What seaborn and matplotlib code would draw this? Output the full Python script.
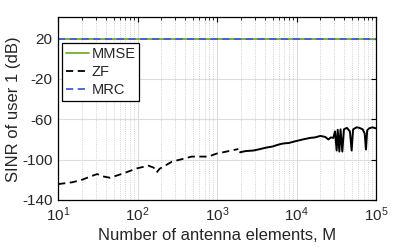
import numpy as np
import pandas as pd
import matplotlib
matplotlib.use("Agg")
import matplotlib.pyplot as plt
import seaborn as sns
from matplotlib.ticker import LogLocator, NullFormatter, NullLocator

# ---------------------------
# Data
# ---------------------------
flat_m = [10, 100, 1000, 10000, 100000]
mmse_db = [20, 20, 20, 20, 20]
mrc_db = [20, 20, 20, 20, 20]

# ZF, sparse dashed part
zf_m_low = [10, 15, 20, 25, 31, 36, 45, 66, 98, 137, 160, 174, 190, 222, 271,
            343, 480, 640, 780, 990, 1324, 1853]
zf_db_low = [-124.3, -122.5, -120, -117, -114.3, -116.5, -118, -113.7, -108.7,
             -106, -108, -112.7, -109, -106, -102, -100, -97, -97, -97, -94,
             -92, -89.5]

# ZF, dense noisy part
zf_m_high = [1950, 2300, 2867, 3500, 4200, 5000, 6000, 6800, 8000, 10000,
             12000, 14800, 17000, 20000, 23000, 25200, 27000, 29000, 30500,
             32000, 33000, 34600, 35800, 37700, 39500, 43000, 47000, 49400,
             51500, 57000, 62000, 68000, 72000, 74800, 77500, 82000, 90000,
             100000]
zf_db_high = [-92.7, -91.5, -91, -89.5, -88, -87, -85, -84, -83.5, -81.5,
              -80, -78.5, -78, -76.5, -77.5, -80, -78, -78.5, -72,
              -91, -70.5, -92, -70, -92, -70, -68.5, -72, -91,
              -70, -68, -68.5, -70, -74, -90, -71, -69, -68,
              -69]

# ---------------------------
# Style
# ---------------------------
sns.set_theme(style="white")
plt.rcParams["font.family"] = ["Liberation Sans", "DejaVu Sans"]
plt.rcParams["mathtext.fontset"] = "custom"
plt.rcParams["mathtext.rm"] = "Liberation Sans"
plt.rcParams["mathtext.it"] = "Liberation Sans:italic"
plt.rcParams["axes.unicode_minus"] = False

fig = plt.figure(figsize=(4.15, 2.49), dpi=100)
ax = fig.add_axes([0.14, 0.197, 0.766, 0.733])

green = "#77AC30"
blue = "#3F5FD8"
txt = "#262626"

sns.lineplot(x=flat_m, y=mmse_db, ax=ax, color=green, lw=1.3, label="MMSE")
sns.lineplot(x=zf_m_low, y=zf_db_low, ax=ax, color="black", lw=1.3,
             label="ZF", dashes=False)
ax.lines[-1].set_dashes((4, 2.5))
sns.lineplot(x=zf_m_high, y=zf_db_high, ax=ax, color="black", lw=1.4,
             label="_nolegend_")
sns.lineplot(x=flat_m, y=mrc_db, ax=ax, color=blue, lw=1.3, label="MRC")
ax.lines[-1].set_dashes((4, 2.5))

ax.set_xscale("log")
ax.set_xlim(10, 1e5)
ax.set_ylim(-140, 41)
ax.set_yticks([-140, -100, -60, -20, 20])
ax.yaxis.set_minor_locator(NullLocator())
ax.xaxis.set_major_locator(LogLocator(base=10, numticks=10))
ax.xaxis.set_minor_locator(LogLocator(base=10, subs=np.arange(2, 10), numticks=10))
ax.xaxis.set_minor_formatter(NullFormatter())

ax.grid(which="major", color="#DCDCDC", lw=0.8, ls="-")
ax.xaxis.grid(which="minor", color="#C4C4C4", lw=0.6, ls=":")
ax.set_axisbelow(True)

ax.tick_params(which="both", direction="in", top=True, right=True,
               labelsize=11, colors="black", labelcolor=txt, pad=4)
ax.tick_params(which="major", length=3.5, width=0.8)
ax.tick_params(which="minor", length=2, width=0.6)
for s in ax.spines.values():
    s.set_color("black")
    s.set_linewidth(0.9)

ax.set_xlabel("Number of antenna elements, M", fontsize=12, labelpad=3, color=txt)
ax.set_ylabel("SINR of user 1 (dB)", fontsize=12, labelpad=1, color=txt)

leg = ax.legend(loc="upper left", bbox_to_anchor=(0.013, 0.86), fontsize=10.5,
                frameon=True, fancybox=False, edgecolor="black",
                borderpad=0.25, handlelength=1.6, handletextpad=0.15,
                labelspacing=0.3, borderaxespad=0)
leg.get_frame().set_linewidth(0.9)
leg.get_frame().set_alpha(1)
for t in leg.get_texts():
    t.set_color(txt)

fig.savefig("out.png", dpi=100)
